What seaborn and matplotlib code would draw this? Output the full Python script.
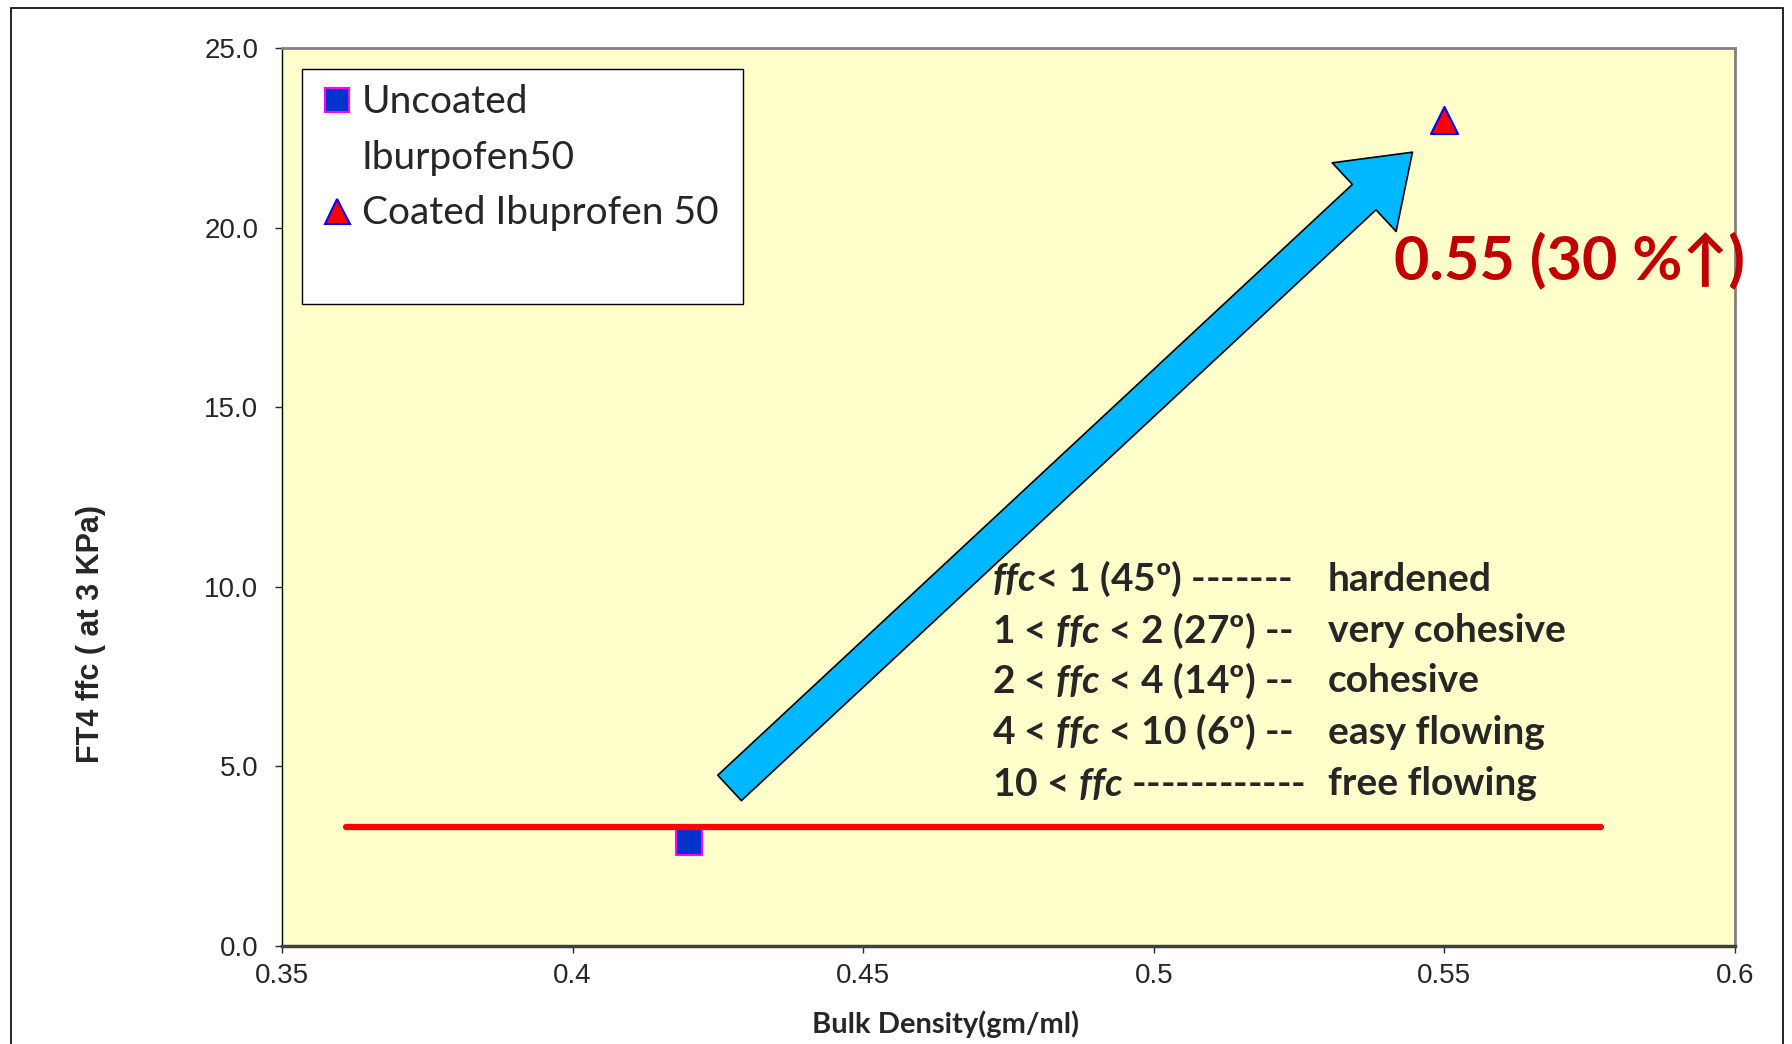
import numpy as np
import pandas as pd
import matplotlib
matplotlib.use("Agg")
import matplotlib.pyplot as plt
import seaborn as sns
from matplotlib.lines import Line2D
from matplotlib.patches import Rectangle

# data
uncoated_x = [0.42]
uncoated_y = [2.9]
coated_x = [0.55]
coated_y = [23.0]
limit_x = [0.361, 0.577]
limit_y = [3.3, 3.3]
arrow_start = (0.427, 4.4)
arrow_end = (0.5445, 22.1)
x_ticks = [0.35, 0.4, 0.45, 0.5, 0.55, 0.6]
x_tick_labels = ["0.35", "0.4", "0.45", "0.5", "0.55", "0.6"]
y_ticks = [0.0, 5.0, 10.0, 15.0, 20.0, 25.0]
legend_labels = ["Uncoated\nIburpofen50", "Coated Ibuprofen 50"]
ffc_ranges = [r"$\mathit{ffc}$< 1 (45º) -------",
              r"1 < $\mathit{ffc}$ < 2 (27º) --",
              r"2 < $\mathit{ffc}$ < 4 (14º) --",
              r"4 < $\mathit{ffc}$ < 10 (6º) --",
              r"10 < $\mathit{ffc}$ ------------"]
ffc_classes = ["hardened", "very cohesive", "cohesive", "easy flowing", "free flowing"]
change_label = "0.55 (30 %↑)"

sns.set_theme(style="white")
plt.rcParams.update({
    "mathtext.fontset": "custom",
    "mathtext.it": "Lato:italic:bold",
    "mathtext.rm": "Lato:bold",
    "mathtext.bf": "Lato:bold",
})
plt.rcParams["font.family"] = ["Liberation Sans", "DejaVu Sans"]
CAL = ["Lato", "DejaVu Sans"]

fig = plt.figure(figsize=(17.92, 10.44), dpi=100)
ax = fig.add_axes([0.1574, 0.0939, 0.8108, 0.8601])
ax.set_facecolor("#FFFFCC")

# outer chart frame
fig.patches.append(Rectangle((0.006, -0.05), 0.989, 1.042, transform=fig.transFigure,
                             fill=False, ec="black", lw=1.2))

sns.scatterplot(x=uncoated_x, y=uncoated_y, ax=ax, marker="s", s=350,
                color="#0033CC", edgecolor="#FF00FF", linewidth=1.5, zorder=3)
sns.scatterplot(x=coated_x, y=coated_y, ax=ax, marker="^", s=380,
                color="#FF0000", edgecolor="#0000FF", linewidth=1.5, zorder=3)
sns.lineplot(x=limit_x, y=limit_y, ax=ax, color="#FF0000", linewidth=4.5, zorder=4)

ax.annotate("", xy=arrow_end, xytext=arrow_start,
            arrowprops=dict(arrowstyle="simple,head_length=1.9,head_width=2.7,tail_width=1.0",
                            mutation_scale=25, fc="#00B8FF", ec="black", lw=1.2,
                            shrinkA=0, shrinkB=0), zorder=2)

ax.set_xlim(0.35, 0.6)
ax.set_ylim(0, 25)
ax.set_xticks(x_ticks)
ax.set_xticklabels(x_tick_labels)
ax.set_yticks(y_ticks)
ax.set_yticklabels([f"{v:.1f}" for v in y_ticks])
ax.tick_params(axis="both", labelsize=20, length=5, width=1, direction="out",
               bottom=True, left=True)
ax.tick_params(axis="y", pad=12)
ax.tick_params(axis="x", pad=7)

for side in ["top", "right"]:
    ax.spines[side].set_color("#808080")
    ax.spines[side].set_linewidth(2)
ax.spines["bottom"].set_color("#404040")
ax.spines["bottom"].set_linewidth(2.5)
ax.spines["left"].set_color("black")
ax.spines["left"].set_linewidth(1)

ax.set_xlabel("Bulk Density(gm/ml)", fontsize=21, fontweight="bold", family=CAL)
ax.xaxis.set_label_coords(0.457, -0.0713)
ax.set_ylabel("FT4 ffc ( at 3 KPa)", fontsize=22, fontweight="bold")
ax.yaxis.set_label_coords(-0.121, 0.347)

# flowability classes
line_y = [0.4084, 0.3511, 0.2952, 0.2379, 0.1807]
for yy, rng, cls in zip(line_y, ffc_ranges, ffc_classes):
    ax.text(0.4886, yy, rng, transform=ax.transAxes, fontsize=28, fontweight="bold",
            family=CAL, va="center", ha="left")
    ax.text(0.7199, yy, cls, transform=ax.transAxes, fontsize=28, fontweight="bold",
            family=CAL, va="center", ha="left")

ax.text(0.7655, 0.7634, change_label, transform=ax.transAxes, fontsize=44,
        fontweight="bold", color="#C00000", family=CAL, va="center", ha="left")

# legend: frame drawn separately to keep the empty space below the entries
ax.add_patch(Rectangle((0.0134, 0.715), 0.3037, 0.262, transform=ax.transAxes,
                       fc="white", ec="black", lw=1, zorder=5))
first, second = legend_labels[0].split("\n")
handles = [Line2D([], [], marker="s", ls="none", ms=17, mfc="#0033CC", mec="#FF00FF", mew=1.5),
           Line2D([], [], ls="none"),
           Line2D([], [], marker="^", ls="none", ms=18, mfc="#FF0000", mec="#0000FF", mew=1.5)]
leg = ax.legend(handles, [first, second, legend_labels[1]], loc="upper left",
                bbox_to_anchor=(0.0134, 0.977), borderaxespad=0,
                frameon=False, prop={"family": CAL, "size": 28},
                handletextpad=0.15, handlelength=1.0, borderpad=0.4, labelspacing=0.5)
leg.set_zorder(6)

fig.savefig("out.png", dpi=100)
